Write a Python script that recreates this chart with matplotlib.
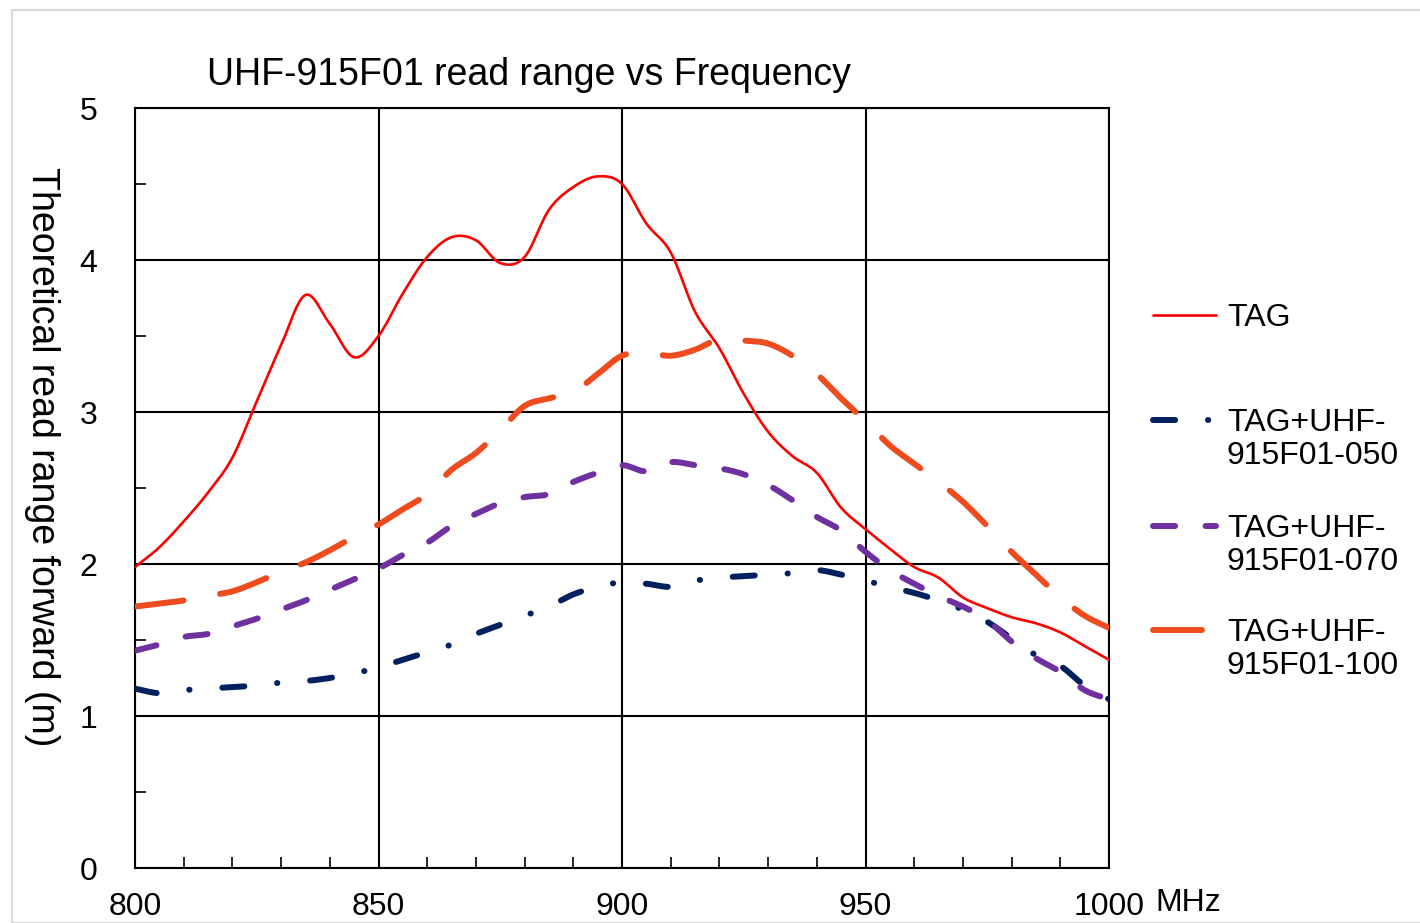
import numpy as np
import matplotlib.pyplot as plt
from matplotlib.lines import Line2D
from matplotlib.patches import Rectangle
from matplotlib.ticker import MultipleLocator

plt.rcParams['font.family'] = ['Liberation Sans', 'DejaVu Sans']

freq = np.arange(800, 1001, 5)

tag = [1.98, 2.11, 2.28, 2.47, 2.70, 3.07, 3.44, 3.77, 3.58, 3.36,
       3.50, 3.78, 4.02, 4.15, 4.13, 3.98, 4.02, 4.33, 4.48, 4.55,
       4.50, 4.24, 4.05, 3.66, 3.42, 3.12, 2.87, 2.71, 2.60, 2.37,
       2.23, 2.10, 1.98, 1.91, 1.78, 1.71, 1.65, 1.61, 1.55, 1.46, 1.37]

tag_050 = [1.18, 1.15, 1.17, 1.18, 1.19, 1.20, 1.22, 1.23, 1.25, 1.28,
           1.32, 1.37, 1.42, 1.47, 1.54, 1.60, 1.66, 1.72, 1.80, 1.85,
           1.88, 1.87, 1.85, 1.89, 1.91, 1.92, 1.93, 1.94, 1.96, 1.93,
           1.89, 1.85, 1.81, 1.76, 1.70, 1.62, 1.51, 1.40, 1.33, 1.20, 1.11]

tag_070 = [1.43, 1.47, 1.52, 1.54, 1.59, 1.64, 1.70, 1.76, 1.83, 1.90,
           1.97, 2.06, 2.14, 2.25, 2.33, 2.40, 2.44, 2.46, 2.54, 2.60,
           2.65, 2.61, 2.67, 2.65, 2.63, 2.59, 2.52, 2.42, 2.31, 2.22,
           2.08, 1.96, 1.87, 1.79, 1.72, 1.63, 1.49, 1.38, 1.29, 1.17, 1.11]

tag_100 = [1.72, 1.74, 1.76, 1.79, 1.82, 1.88, 1.95, 2.01, 2.09, 2.18,
           2.26, 2.36, 2.46, 2.62, 2.73, 2.88, 3.04, 3.09, 3.13, 3.25,
           3.37, 3.39, 3.37, 3.41, 3.48, 3.47, 3.45, 3.37, 3.25, 3.09,
           2.94, 2.78, 2.66, 2.54, 2.41, 2.25, 2.08, 1.93, 1.78, 1.66, 1.58]

labels = ["TAG", "TAG+UHF-\n915F01-050", "TAG+UHF-\n915F01-070", "TAG+UHF-\n915F01-100"]


def smooth(x, y, n=12):
    # Catmull-Rom curve through the points, like a spreadsheet "smoothed line"
    x = np.asarray(x, float)
    y = np.asarray(y, float)
    px = np.concatenate([[2 * x[0] - x[1]], x, [2 * x[-1] - x[-2]]])
    py = np.concatenate([[2 * y[0] - y[1]], y, [2 * y[-1] - y[-2]]])
    t = np.linspace(0, 1, n, endpoint=False)
    xs, ys = [], []
    for i in range(1, len(px) - 2):
        for p, out in ((px, xs), (py, ys)):
            p0, p1, p2, p3 = p[i - 1], p[i], p[i + 1], p[i + 2]
            out.extend(0.5 * (2 * p1 + (p2 - p0) * t + (2 * p0 - 5 * p1 + 4 * p2 - p3) * t ** 2
                              + (3 * p1 - p0 - 3 * p2 + p3) * t ** 3))
    xs.append(x[-1])
    ys.append(y[-1])
    return np.array(xs), np.array(ys)


W, H = 1420, 923
fig = plt.figure(figsize=(W / 100, H / 100), dpi=100)
fig.patches.append(Rectangle((12 / W, 0), 1.0, 1 - 10 / H, transform=fig.transFigure,
                             fill=False, edgecolor='#d9d9d9', linewidth=1.5))

ax = fig.add_axes([135 / W, 1 - 868 / H, (1109 - 135) / W, (868 - 108) / H])

styles = [
    dict(color='#ff0000', lw=1.9, zorder=6),
    dict(color='#002060', lw=4.3, dashes=(3.7, 5.5, 0.05, 5.5), zorder=3),
    dict(color='#7030a0', lw=4.3, dashes=(3.7, 5.1), zorder=4),
    dict(color='#ee4b1e', lw=4.3, dashes=(8.2, 6.2), zorder=5),
]
series = [tag, tag_050, tag_070, tag_100]

for vals, st in zip(series, styles):
    sx, sy = smooth(freq, vals)
    ax.plot(sx, sy, solid_capstyle='round', dash_capstyle='round', **st)

ax.set_xlim(800, 1000)
ax.set_ylim(0, 5)
ax.xaxis.set_major_locator(MultipleLocator(50))
ax.xaxis.set_minor_locator(MultipleLocator(10))
ax.yaxis.set_major_locator(MultipleLocator(1))
ax.yaxis.set_minor_locator(MultipleLocator(0.5))
ax.grid(True, which='major', color='black', linewidth=1.5)
for sp in ax.spines.values():
    sp.set_linewidth(1.5)
ax.tick_params(which='both', direction='in', labelsize=23, width=1.2)
ax.tick_params(which='major', length=0)
ax.tick_params(which='minor', length=8)
ax.tick_params(axis='x', pad=17)
ax.tick_params(axis='y', pad=27)

fig.text(1155 / W, 1 - 903 / H, "MHz", fontsize=23, ha='left', va='center')
fig.text(529 / W, 1 - 75 / H, "UHF-915F01 read range vs Frequency", fontsize=27,
         ha='center', va='center')
fig.text(42 / W, 1 - 457 / H, "Theoretical read range forward (m)", fontsize=27,
         rotation=270, ha='center', va='center')

# legend drawn by hand so the key sits on the first line of each label
leg_y = [315, 420, 526, 630]
for lab, st, yy in zip(labels, styles, leg_y):
    kw = dict(st)
    kw.pop('zorder')
    ln = Line2D([1153 / W, 1216 / W], [1 - yy / H, 1 - yy / H], transform=fig.transFigure,
                solid_capstyle='round', dash_capstyle='round', **kw)
    fig.add_artist(ln)
    fig.text(1227 / W, 1 - (yy - 12) / H, lab, fontsize=23, ha='left', va='top',
             linespacing=1.12)

fig.savefig("out.png", dpi=100)
